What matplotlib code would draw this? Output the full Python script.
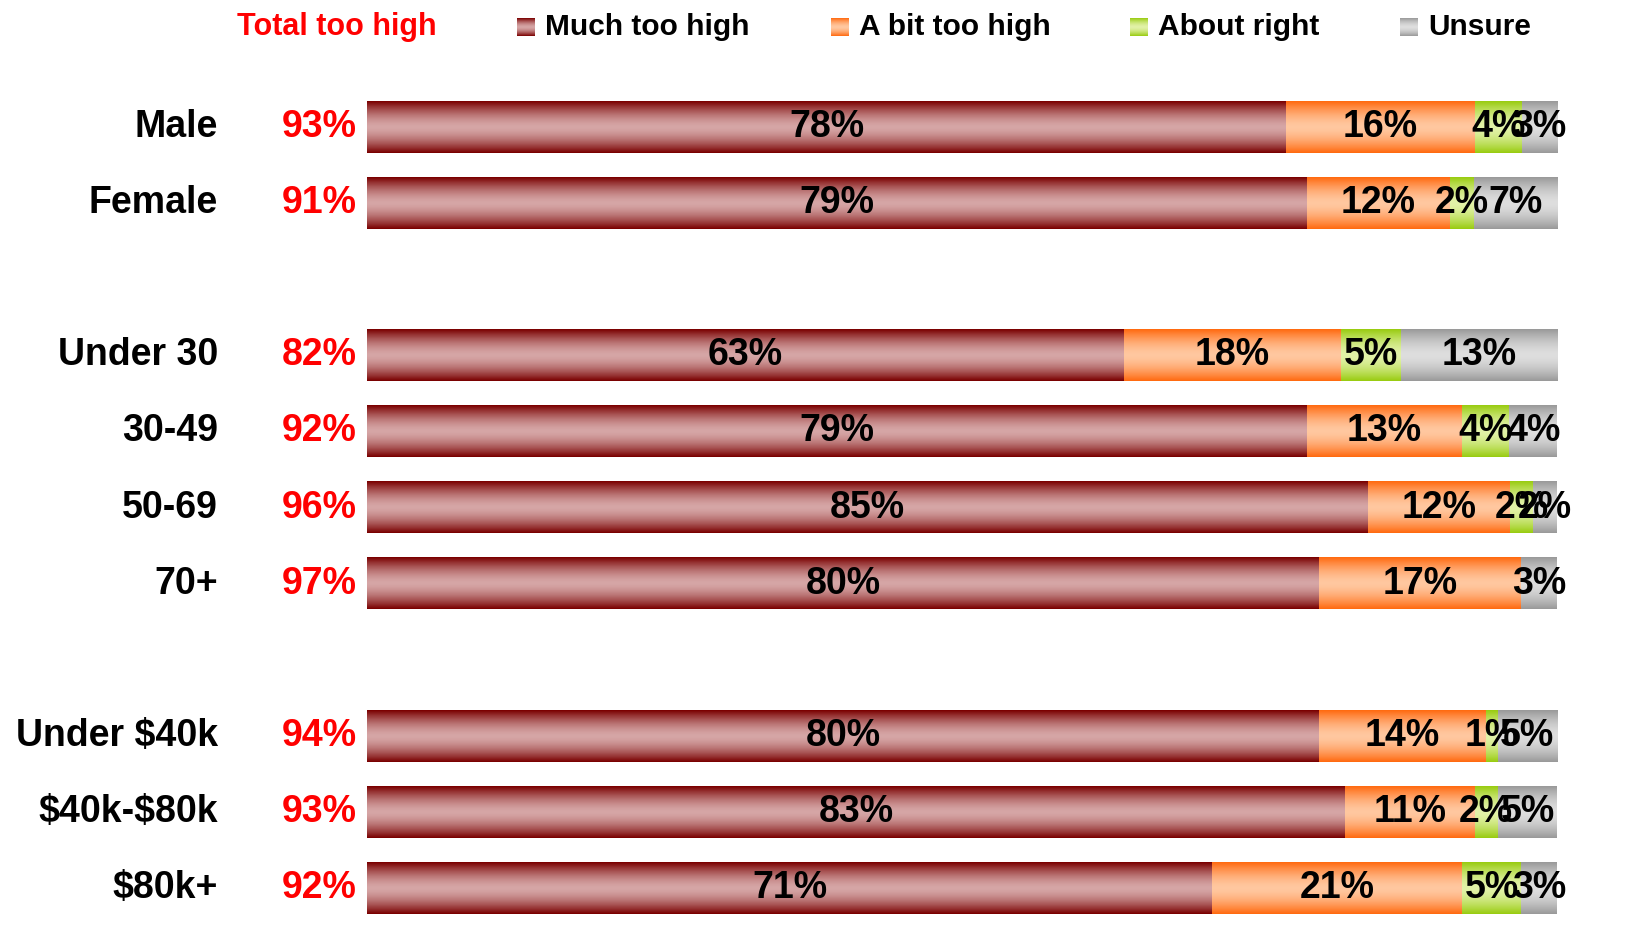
import matplotlib
matplotlib.use("Agg")
import matplotlib.pyplot as plt
import numpy as np

plt.rcParams['font.family'] = ['Liberation Sans', 'DejaVu Sans']
plt.rcParams['font.weight'] = 'bold'
plt.rcParams['text.parse_math'] = False

# data
categories = ["Male", "Female", "Under 30", "30-49", "50-69", "70+",
              "Under $40k", "$40k-$80k", "$80k+"]
row_pos = [0, 1, 3, 4, 5, 6, 8, 9, 10]
total_too_high = [93, 91, 82, 92, 96, 97, 94, 93, 92]
much_too_high = [78, 79, 63, 79, 85, 80, 80, 83, 71]
bit_too_high = [16, 12, 18, 13, 12, 17, 14, 11, 21]
about_right = [4, 2, 5, 4, 2, 0, 1, 2, 5]
unsure = [3, 7, 13, 4, 2, 3, 5, 5, 3]

series = [("Much too high", much_too_high),
          ("A bit too high", bit_too_high),
          ("About right", about_right),
          ("Unsure", unsure)]

# (edge colour, centre colour) for the banded gradient
grad_colors = {
    "Much too high": ("#7a0000", "#d6a6a6"),
    "A bit too high": ("#ff6a10", "#ffc8a0"),
    "About right": ("#99cc11", "#e2f2a8"),
    "Unsure": ("#9a9a9a", "#dedede"),
}


def gradient(edge, centre, n=64):
    e = np.array(matplotlib.colors.to_rgb(edge))
    c = np.array(matplotlib.colors.to_rgb(centre))
    t = np.abs(np.linspace(-1, 1, n)) ** 1.6
    return (c[None, :] + (e - c)[None, :] * t[:, None])[:, None, :]


W, H = 1630, 946
fig = plt.figure(figsize=(W / 100, H / 100), dpi=100)
ax = fig.add_axes([367 / W, 1 - 926 / H, (1557 - 367) / W, (926 - 89) / H])

data = np.array([s[1] for s in series], dtype=float)
share = data / data.sum(axis=0) * 100
left = np.zeros(len(categories))
bar_h = 0.68

for (name, vals), pct in zip(series, share):
    bars = ax.barh(row_pos, pct, left=left, height=bar_h, color='none', edgecolor='none')
    img = gradient(*grad_colors[name])
    for b, v in zip(bars, vals):
        if v == 0:
            continue
        x0, y0 = b.get_x(), b.get_y()
        ax.imshow(img, extent=(x0, x0 + b.get_width(), y0 + b.get_height(), y0),
                  aspect='auto', interpolation='bilinear', zorder=2)
        ax.text(x0 + b.get_width() / 2, y0 + b.get_height() / 2, f"{v}%",
                ha='center', va='center', fontsize=27, fontweight='bold',
                color='black', zorder=3)
    left += pct

ax.set_xlim(0, 100)
ax.set_ylim(10.5, -0.5)
ax.axis('off')

for cat, y, tot in zip(categories, row_pos, total_too_high):
    ax.annotate(cat, xy=(0, y), xycoords=('axes fraction', 'data'),
                xytext=(-149, 0), textcoords='offset pixels',
                ha='right', va='center', fontsize=27, fontweight='bold')
    ax.annotate(f"{tot}%", xy=(0, y), xycoords=('axes fraction', 'data'),
                xytext=(-10, 0), textcoords='offset pixels',
                ha='right', va='center', fontsize=27, fontweight='bold', color='red')

# legend
ly = 1 - 27 / H
fig.text(237 / W, ly, "Total too high", color='red', fontsize=22,
         fontweight='bold', ha='left', va='center')
legend_x = [517, 831, 1130, 1400]
for (name, _), lx in zip(series, legend_x):
    m = fig.add_axes([lx / W, 1 - 36 / H, 18 / W, 18 / H])
    m.imshow(gradient(*grad_colors[name]), aspect='auto', interpolation='bilinear')
    m.axis('off')
    fig.text((lx + 28) / W, ly, name, color='black', fontsize=21.5,
             fontweight='bold', ha='left', va='center')

fig.savefig("out.png", dpi=100)
